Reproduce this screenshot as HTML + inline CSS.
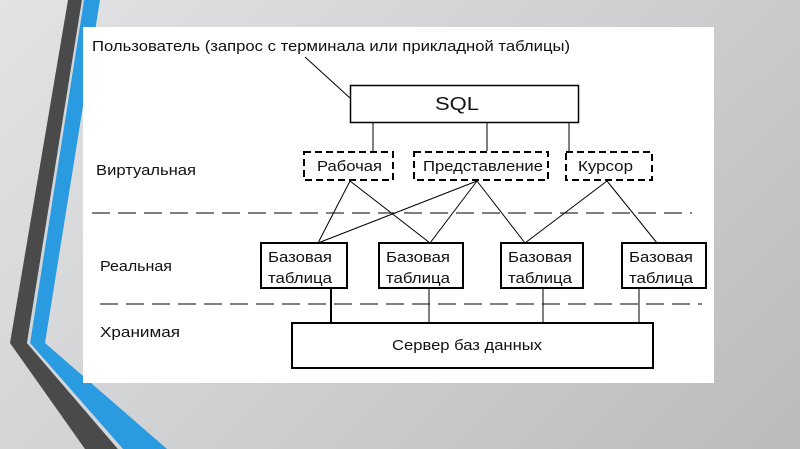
<!DOCTYPE html>
<html><head><meta charset="utf-8"><style>
html,body{margin:0;padding:0;width:800px;height:449px;overflow:hidden}
body{background:linear-gradient(135deg,#e2e3e5 0%,#cfd0d2 50%,#b9bbbd 100%)}
svg{position:absolute;left:0;top:0}
text{font-family:"Liberation Sans",Arial,sans-serif;fill:#111}
</style></head><body>
<svg width="800" height="449" viewBox="0 0 800 449">
<polygon points="68,0 82,0 27,343 118,449 85,449 10,343" fill="#4a4a4a"/>
<polygon points="84,0 100,0 45,343 167,449 123,449 30,343" fill="#2a9be0"/>
<polygon points="82,0 84,0 30,343 123,449 118,449 27,343" fill="#cfd6dc"/>
<rect x="83" y="27" width="631" height="356" fill="#fff"/>
<g stroke="#000" fill="none">
<g stroke="none" font-size="15" lengthAdjust="spacingAndGlyphs">
<text x="92" y="51" textLength="478" lengthAdjust="spacingAndGlyphs">Пользователь (запрос с терминала или прикладной таблицы)</text>
<text x="435" y="110" font-size="18" textLength="44" lengthAdjust="spacingAndGlyphs">SQL</text>
<text x="317" y="171" textLength="65" lengthAdjust="spacingAndGlyphs">Рабочая</text>
<text x="423" y="171" textLength="120" lengthAdjust="spacingAndGlyphs">Представление</text>
<text x="578" y="171" textLength="55" lengthAdjust="spacingAndGlyphs">Курсор</text>
<text x="96" y="175" textLength="100" lengthAdjust="spacingAndGlyphs">Виртуальная</text>
<text x="100" y="271" textLength="72" lengthAdjust="spacingAndGlyphs">Реальная</text>
<text x="100" y="337" textLength="80" lengthAdjust="spacingAndGlyphs">Хранимая</text>
<text x="392" y="350" textLength="150" lengthAdjust="spacingAndGlyphs">Сервер баз данных</text>
<text x="268" y="262" textLength="64" lengthAdjust="spacingAndGlyphs">Базовая</text><text x="268" y="283" textLength="64" lengthAdjust="spacingAndGlyphs">таблица</text>
<text x="386" y="262" textLength="64" lengthAdjust="spacingAndGlyphs">Базовая</text><text x="386" y="283" textLength="64" lengthAdjust="spacingAndGlyphs">таблица</text>
<text x="508" y="262" textLength="64" lengthAdjust="spacingAndGlyphs">Базовая</text><text x="508" y="283" textLength="64" lengthAdjust="spacingAndGlyphs">таблица</text>
<text x="629" y="262" textLength="64" lengthAdjust="spacingAndGlyphs">Базовая</text><text x="629" y="283" textLength="64" lengthAdjust="spacingAndGlyphs">таблица</text>
</g>
<line x1="305" y1="57" x2="350" y2="98" stroke-width="1"/>
<rect x="350.5" y="85.5" width="228" height="37" stroke-width="1.5"/>
<line x1="373" y1="123" x2="373" y2="151"/>
<line x1="487" y1="123" x2="487" y2="151"/>
<line x1="569" y1="123" x2="569" y2="151"/>
<g stroke-width="2" stroke-dasharray="7,4">
<rect x="304" y="152" width="89" height="28"/>
<rect x="414" y="152" width="134" height="28"/>
<rect x="566" y="152" width="86" height="28"/>
</g>
<line x1="92" y1="213" x2="692" y2="213" stroke-dasharray="18,8"/>
<g stroke-width="1">
<line x1="350" y1="181" x2="318" y2="243"/>
<line x1="350" y1="181" x2="430" y2="243"/>
<line x1="477" y1="181" x2="318" y2="243"/>
<line x1="477" y1="181" x2="430" y2="243"/>
<line x1="477" y1="181" x2="525" y2="243"/>
<line x1="607" y1="181" x2="525" y2="243"/>
<line x1="607" y1="181" x2="657" y2="243"/>
</g>
<g stroke-width="2">
<rect x="261" y="243" width="86" height="45"/>
<rect x="379" y="243" width="84" height="45"/>
<rect x="501" y="243" width="82" height="45"/>
<rect x="622" y="243" width="84" height="45"/>
</g>
<line x1="100" y1="304" x2="702" y2="304" stroke-dasharray="18,8"/>
<line x1="331" y1="288" x2="331" y2="323" stroke-width="2"/>
<line x1="429" y1="288" x2="429" y2="323"/>
<line x1="543" y1="288" x2="543" y2="323"/>
<line x1="639" y1="288" x2="639" y2="323"/>
<rect x="292" y="323" width="361" height="45" stroke-width="2"/>
</g>
</svg>
</body></html>
